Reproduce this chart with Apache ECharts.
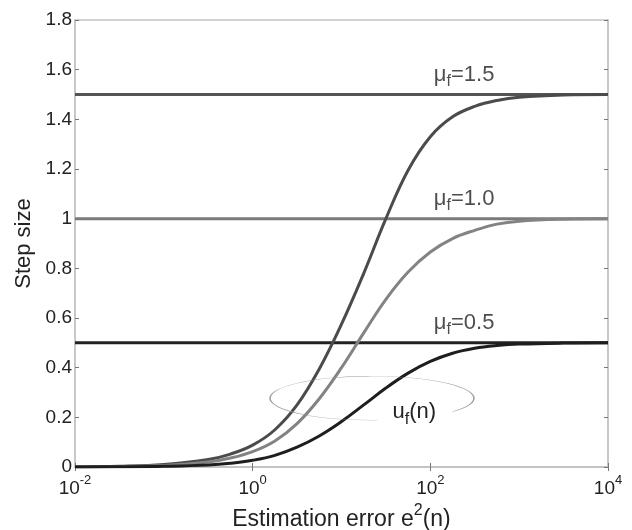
<!DOCTYPE html>
<html>
<head>
<meta charset="utf-8">
<script src="https://cdn.jsdelivr.net/npm/echarts@6/dist/echarts.min.js"></script>
<style>
  html, body { margin: 0; padding: 0; background: #fff; }
  #chart { width: 632px; height: 530px; }
</style>
</head>
<body>
<div id="chart"></div>
<script>
// Estimation error e^2(n) sample positions (log-spaced)
const errorLevels = [0.01, 0.0316, 0.1, 0.316, 0.562, 1, 1.78, 3.16, 5.62, 10,
                     17.8, 31.6, 56.2, 100, 178, 316, 562, 1000, 3162, 10000];

// Variable step size u_f(n) for each upper bound mu_f
const stepMu15 = [0.001, 0.003, 0.010, 0.030, 0.052, 0.088, 0.150, 0.250, 0.395, 0.575,
                  0.78, 1.0, 1.195, 1.33, 1.41, 1.452, 1.476, 1.489, 1.498, 1.5];
const stepMu10 = [0.001, 0.002, 0.006, 0.020, 0.036, 0.062, 0.105, 0.175, 0.275, 0.40,
                  0.54, 0.675, 0.785, 0.866, 0.92, 0.953, 0.978, 0.99, 0.998, 1.0];
const stepMu05 = [0.0005, 0.001, 0.003, 0.008, 0.015, 0.027, 0.047, 0.08, 0.125, 0.183,
                  0.25, 0.318, 0.378, 0.425, 0.458, 0.478, 0.489, 0.495, 0.499, 0.5];

// Fixed step sizes (upper bounds)
const muBounds = [1.5, 1.0, 0.5];
const muLabels = ['1.5', '1.0', '0.5'];

const xRange = [0.01, 10000];
const yTicks = [0, 0.2, 0.4, 0.6, 0.8, 1, 1.2, 1.4, 1.6, 1.8];

const FONT = '"Liberation Sans", Arial, sans-serif';
const boundColors = ['#555555', '#7a7a7a', '#222222'];
const curveColors = ['#4b4b4b', '#838383', '#1e1e1e'];

const chart = echarts.init(document.getElementById('chart'), null, { renderer: 'canvas' });

function pairs(xs, ys) { return xs.map((x, i) => [x, ys[i]]); }

const curves = [stepMu15, stepMu10, stepMu05];
const series = [];

muBounds.forEach((mu, i) => {
  series.push({
    type: 'line',
    data: [[xRange[0], mu], [xRange[1], mu]],
    symbol: 'none',
    lineStyle: { color: boundColors[i], width: 3 },
    z: 2,
    silent: true
  });
});

curves.forEach((ys, i) => {
  series.push({
    type: 'line',
    data: pairs(errorLevels, ys),
    symbol: 'none',
    smooth: 0.4,
    lineStyle: { color: curveColors[i], width: 3 },
    z: 3,
    silent: true
  });
});

// mu_f labels above the bound lines
series.push({
  type: 'scatter',
  symbolSize: 0,
  silent: true,
  data: muBounds.map((mu, i) => ({
    value: [240, mu],
    label: {
      show: true,
      position: 'top',
      distance: 5,
      formatter: '{a|μ}{s|f}{a|=' + muLabels[i] + '}'
    }
  })),
  label: {
    rich: {
      a: { fontFamily: FONT, fontSize: 22, color: '#222', lineHeight: 26 },
      s: { fontFamily: FONT, fontSize: 16, color: '#222', padding: [14, 0, 0, 0] }
    }
  },
  z: 4
});

const axisLabelRich = {
  b: { fontFamily: FONT, fontSize: 19, color: '#222', padding: [7, 0, 0, 0] },
  e: { fontFamily: FONT, fontSize: 13, color: '#222', padding: [0, 0, 9, 0] }
};

chart.setOption({
  animation: false,
  backgroundColor: '#ffffff',
  grid: {
    left: 75, right: 24, top: 20, bottom: 63,
    outerBoundsMode: 'none',
    containLabel: false,
    show: true, borderColor: '#c4c4c4', borderWidth: 1.5, backgroundColor: '#fff'
  },
  xAxis: [{
    type: 'log',
    logBase: 10,
    min: xRange[0], max: xRange[1],
    interval: 2,
    name: '{t|Estimation error e}{u|2}{t|(n)}',
    nameLocation: 'middle',
    nameGap: 28,
    nameTextStyle: {
      rich: {
        t: { fontFamily: FONT, fontSize: 23, color: '#222', padding: [9, 0, 0, 0] },
        u: { fontFamily: FONT, fontSize: 16, color: '#222', padding: [0, 0, 9, 0] }
      }
    },
    axisLine: { show: true, lineStyle: { color: '#c4c4c4', width: 1.5 } },
    axisTick: { show: true, inside: true, length: 4, lineStyle: { color: '#777' } },
    minorTick: { show: false },
    splitLine: { show: false },
    axisLabel: {
      margin: 5,
      formatter: v => '{b|10}{e|' + Math.round(Math.log10(v)) + '}',
      rich: axisLabelRich
    }
  }, {
    type: 'log',
    logBase: 10,
    position: 'top',
    min: xRange[0], max: xRange[1],
    interval: 2,
    axisLine: { show: true, lineStyle: { color: '#c4c4c4', width: 1.5 } },
    axisTick: { show: true, inside: true, length: 4, lineStyle: { color: '#777' } },
    axisLabel: { show: false },
    splitLine: { show: false }
  }],
  yAxis: [{
    type: 'value',
    min: yTicks[0], max: yTicks[yTicks.length - 1],
    interval: 0.2,
    name: 'Step size',
    nameLocation: 'middle',
    nameGap: 36,
    nameTextStyle: { fontFamily: FONT, fontSize: 22, color: '#222' },
    axisLine: { show: true, lineStyle: { color: '#c4c4c4', width: 1.5 } },
    axisTick: { show: true, inside: true, length: 4, lineStyle: { color: '#777' } },
    splitLine: { show: false },
    axisLabel: { fontFamily: FONT, fontSize: 19, color: '#222', margin: 3 }
  }, {
    type: 'value',
    position: 'right',
    min: yTicks[0], max: yTicks[yTicks.length - 1],
    interval: 0.2,
    axisLine: { show: true, lineStyle: { color: '#c4c4c4', width: 1.5 } },
    axisTick: { show: true, inside: true, length: 4, lineStyle: { color: '#777' } },
    splitLine: { show: false },
    axisLabel: { show: false }
  }],
  series: series
});

// Annotation: open ellipse around the lower part of the curves, labelled u_f(n)
const ellipseCenter = chart.convertToPixel({ xAxisIndex: 0, yAxisIndex: 0 }, [22, 0.277]);
const ellipseRx = 102, ellipseRy = 22;
const labelPos = chart.convertToPixel({ xAxisIndex: 0, yAxisIndex: 0 }, [66, 0.22]);

chart.setOption({
  graphic: [{
    type: 'arc',
    x: ellipseCenter[0],
    y: ellipseCenter[1],
    scaleY: ellipseRy / ellipseRx,
    shape: {
      cx: 0, cy: 0, r: ellipseRx,
      startAngle: 87 * Math.PI / 180,
      endAngle: (38 + 360) * Math.PI / 180,
      clockwise: true
    },
    style: { stroke: '#999999', lineWidth: 1.5, fill: null, strokeNoScale: true },
    z: 10,
    silent: true
  }, {
    type: 'text',
    x: labelPos[0],
    y: labelPos[1],
    style: {
      text: '{a|u}{s|f}{a|(n)}',
      align: 'center',
      verticalAlign: 'middle',
      rich: {
        a: { fontFamily: FONT, fontSize: 22, fill: '#222', lineHeight: 26 },
        s: { fontFamily: FONT, fontSize: 16, fill: '#222', padding: [14, 0, 0, 0] }
      }
    },
    z: 11,
    silent: true
  }]
});
</script>
</body>
</html>
